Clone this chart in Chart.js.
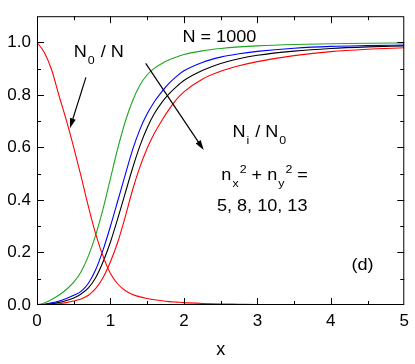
<!DOCTYPE html>
<html>
<head>
<meta charset="utf-8">
<script src="https://cdn.jsdelivr.net/npm/chart.js@4/dist/chart.umd.min.js"></script>
<style>
html,body{margin:0;padding:0;background:#fff;}
#wrap{width:415px;height:364px;}
</style>
</head>
<body>
<div id="wrap"><canvas id="c" width="415" height="364"></canvas></div>
<script>
// ---- data ----
const xGrid = [0,0.1,0.2,0.3,0.4,0.5,0.6,0.7,0.8,0.9,1.0,1.1,1.2,1.3,1.4,1.5,1.6,1.7,1.8,1.9,2.0,2.25,2.5,2.75,3.0,3.5,4.0,4.5,5.0];
const n0OverN = [1.0,0.962,0.895,0.797,0.703,0.6,0.49,0.375,0.27,0.185,0.12,0.08,0.055,0.04,0.031,0.025,0.02,0.016,0.013,0.011,0.009,0.006,0.004,0.003,0.002,0.001,0.0006,0.0003,0.0002];
const ni5  = [0,0.008,0.021,0.038,0.059,0.087,0.127,0.187,0.267,0.367,0.482,0.597,0.697,0.777,0.837,0.877,0.902,0.92,0.934,0.945,0.954,0.968,0.977,0.983,0.987,0.992,0.995,0.997,0.998];
const ni8  = [0,0.003,0.008,0.015,0.025,0.037,0.052,0.083,0.135,0.21,0.30,0.397,0.495,0.59,0.668,0.728,0.775,0.813,0.845,0.871,0.892,0.924,0.944,0.957,0.966,0.978,0.985,0.988,0.99];
const ni10 = [0,0.002,0.005,0.01,0.017,0.027,0.042,0.065,0.105,0.165,0.24,0.33,0.425,0.52,0.605,0.675,0.73,0.772,0.805,0.832,0.855,0.893,0.92,0.938,0.951,0.967,0.977,0.983,0.987];
const ni13 = [0,0.001,0.003,0.005,0.009,0.015,0.023,0.037,0.063,0.105,0.165,0.24,0.335,0.437,0.525,0.597,0.655,0.703,0.746,0.783,0.812,0.86,0.89,0.911,0.927,0.95,0.965,0.974,0.98];
const xTickLabels = ['0','1','2','3','4','5'];
const yTickLabels = ['0.0','0.2','0.4','0.6','0.8','1.0'];

const FONT = "'Liberation Sans', Arial, Helvetica, sans-serif";
Chart.defaults.font.family = FONT;
Chart.defaults.color = '#000';

function pts(ys){ return xGrid.map((x,i)=>({x:x,y:ys[i]})); }
function ds(label, ys, color){
  return {label, data: pts(ys), borderColor: color, borderWidth: 1.1, pointRadius: 0,
          fill:false, cubicInterpolationMode:'monotone'};
}

// annotations (positions in data units)
const notes = [
  {x:0.50, y:0.943, parts:[{t:'N'},{t:'0',s:'sub'},{t:' / N'}]},
  {x:1.98, y:1.0,   parts:[{t:'N = 1000'}]},
  {x:2.66, y:0.639, parts:[{t:'N'},{t:'i',s:'sub'},{t:' / N'},{t:'0',s:'sub'}]},
  {x:2.51, y:0.475, parts:[{t:'n'},{t:'x',s:'sub'},{t:'2',s:'sup'},{t:' + n'},{t:'y',s:'sub'},{t:'2',s:'sup'},{t:' ='}]},
  {x:2.45, y:0.357, parts:[{t:'5, 8, 10, 13'}]},
  {x:4.28, y:0.133, parts:[{t:'(d)'}]}
];
const arrows = [
  {x1:0.666, y1:0.867, x2:0.448, y2:0.673},
  {x1:1.48,  y1:0.920, x2:2.27,  y2:0.59}
];

const SX = 1.13; // horizontal stretch of annotation glyphs
function drawStr(ctx, t, x, y, font){
  ctx.font = font;
  ctx.save(); ctx.translate(x, y); ctx.scale(SX, 1); ctx.fillText(t, 0, 0); ctx.restore();
  return ctx.measureText(t).width * SX;
}

const decor = {
  id:'decor',
  afterDraw(chart){
    const ctx = chart.ctx, a = chart.chartArea, xs = chart.scales.x, ys = chart.scales.y;
    ctx.save();
    ctx.strokeStyle = '#000'; ctx.lineWidth = 1;
    ctx.strokeRect(a.left+0.5, a.top+0.5, a.right-a.left-1, a.bottom-a.top-1);
    ctx.beginPath();
    xs.ticks.forEach(t=>{
      const v = t.value; if (v<=0 || v>=5) return;
      const major = Math.abs(v-Math.round(v))<1e-6;
      const L = major?7:4; const px = Math.round(xs.getPixelForValue(v))+0.5;
      ctx.moveTo(px,a.bottom); ctx.lineTo(px,a.bottom-L);
      ctx.moveTo(px,a.top); ctx.lineTo(px,a.top+L);
    });
    ys.ticks.forEach(t=>{
      const v = t.value; if (v<=0.001 || v>1.05) return;
      const k = Math.round(v*10); const major = k%2===0;
      const L = major?7:4; const py = Math.round(ys.getPixelForValue(v))+0.5;
      ctx.moveTo(a.left,py); ctx.lineTo(a.left+L,py);
      ctx.moveTo(a.right,py); ctx.lineTo(a.right-L,py);
    });
    ctx.stroke();
    arrows.forEach(r=>{
      const x1=xs.getPixelForValue(r.x1), y1=ys.getPixelForValue(r.y1);
      const x2=xs.getPixelForValue(r.x2), y2=ys.getPixelForValue(r.y2);
      const ang=Math.atan2(y2-y1,x2-x1), hl=10, hw=3;
      ctx.beginPath(); ctx.lineWidth=1.2; ctx.moveTo(x1,y1);
      ctx.lineTo(x2-Math.cos(ang)*hl*0.8, y2-Math.sin(ang)*hl*0.8); ctx.stroke();
      ctx.beginPath(); ctx.fillStyle='#000';
      ctx.moveTo(x2,y2);
      ctx.lineTo(x2-Math.cos(ang)*hl - Math.sin(ang)*hw, y2-Math.sin(ang)*hl + Math.cos(ang)*hw);
      ctx.lineTo(x2-Math.cos(ang)*hl + Math.sin(ang)*hw, y2-Math.sin(ang)*hl - Math.cos(ang)*hw);
      ctx.closePath(); ctx.fill();
    });
    ctx.fillStyle='#000'; ctx.textBaseline='alphabetic'; ctx.textAlign='left';
    notes.forEach(n=>{
      let cx = xs.getPixelForValue(n.x); const by = ys.getPixelForValue(n.y);
      let subStart = null;
      n.parts.forEach(p=>{
        if (p.s==='sub'){
          subStart = cx+1;
          cx = subStart + drawStr(ctx, p.t, subStart, by+7, '11px '+FONT) + 1;
        } else if (p.s==='sup'){
          const w = drawStr(ctx, p.t, cx, by-7, '11px '+FONT);
          cx += w;
        } else {
          cx += drawStr(ctx, p.t, cx, by, '16px '+FONT);
        }
      });
    });
    ctx.restore();
  }
};

new Chart(document.getElementById('c'), {
  type:'line',
  data:{ datasets:[
    ds('N0/N', n0OverN, '#ff0000'),
    ds('5', ni5, '#1fa51f'),
    ds('8', ni8, '#0000ff'),
    ds('10', ni10, '#000000'),
    ds('13', ni13, '#ff0000')
  ]},
  options:{
    responsive:false, animation:false,
    layout:{padding:{top:15,right:10,left:0,bottom:0}},
    plugins:{legend:{display:false}, tooltip:{enabled:false}},
    scales:{
      x:{type:'linear', min:0, max:5,
         grid:{display:false, drawTicks:false}, border:{display:false},
         ticks:{stepSize:0.5, padding:6, font:{size:17}, maxRotation:0,
                callback:(v)=>{ const i = xTickLabels.indexOf(String(v)); return Number.isInteger(v) && i>=0 ? xTickLabels[i] : ''; }},
         title:{display:true, text:'x', font:{size:18}, padding:{top:0,bottom:3}},
         afterFit:(s)=>{ s.height = 59; }},
      y:{type:'linear', min:0, max:1.1,
         grid:{display:false, drawTicks:false}, border:{display:false},
         ticks:{stepSize:0.1, padding:6, font:{size:17},
                callback:(v)=>{ const k=Math.round(v*10); return (k%2===0 && k<=10) ? yTickLabels[k/2] : ''; }},
         afterFit:(s)=>{ s.width = 37; }}
    }
  },
  plugins:[decor]
});
</script>
</body>
</html>
